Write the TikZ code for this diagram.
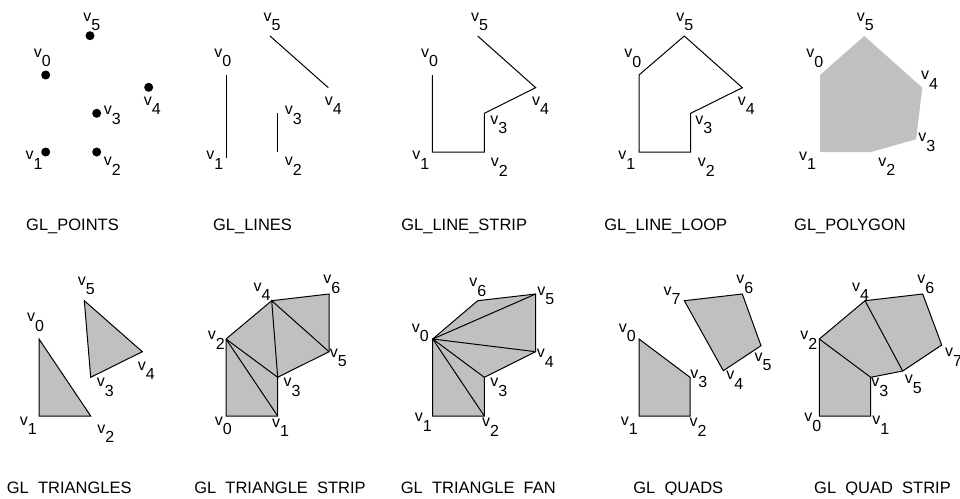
\documentclass[tikz,border=0pt]{standalone}
\usepackage{fontspec}
\setmainfont{Liberation Sans}
\newcommand\vv[1]{v\raisebox{-0.6em}{#1}}
\begin{document}
\begin{tikzpicture}[x=1pt,y=-1pt,
  lab/.style={inner sep=0pt, font=\fontsize{16}{16}\selectfont},
  captext/.style={anchor=base, inner sep=0pt, font=\fontsize{16.5}{17}\selectfont},
  edge/.style={draw=black, line width=1pt, line join=miter},
  poly/.style={fill=gfill, draw=black, line width=1pt},
  dotmark/.style={fill=black}]
\definecolor{gfill}{HTML}{C0C0C0}
\useasboundingbox (0,0) rectangle (960,498);
% ---------- Panel A: GL_POINTS
\coordinate (a0) at (45.7,75);
\coordinate (a1) at (45.7,152);
\coordinate (a2) at (96.7,152);
\coordinate (a3) at (96.7,113.3);
\coordinate (a4) at (148.7,87.3);
\coordinate (a5) at (90,35.7);
\foreach \p in {a0,a1,a2,a3,a4,a5} \fill[dotmark] (\p) circle[radius=4.5pt];
\node[lab] (la0) at (42.2,58) {\vv0};
\node[lab] (la1) at (34,160.3) {\vv1};
\node[lab] (la2) at (112.3,166.3) {\vv2};
\node[lab] (la3) at (112.3,115.3) {\vv3};
\node[lab] (la4) at (152.3,105.7) {\vv4};
\node[lab] (la5) at (91.7,21.8) {\vv5};
\node[captext] (ca) at (72.5,230) {GL\_POINTS};
% ---------- Panel B: GL_LINES
\coordinate (b0) at (226,75);
\coordinate (b1) at (226,158);
\coordinate (b2) at (277.7,152);
\coordinate (b3) at (277.7,113);
\coordinate (b4) at (328.3,87.7);
\coordinate (b5) at (270,36);
\draw[edge] (b0) -- (b1);
\draw[edge] (b3) -- (b2);
\draw[edge] (b5) -- (b4);
\node[lab] (lb0) at (222.8,58) {\vv0};
\node[lab] (lb1) at (214.8,160.3) {\vv1};
\node[lab] (lb2) at (293.3,166.3) {\vv2};
\node[lab] (lb3) at (293.3,115.3) {\vv3};
\node[lab] (lb4) at (333.3,105.7) {\vv4};
\node[lab] (lb5) at (272,22) {\vv5};
\node[captext] (cb) at (252.5,230) {GL\_LINES};
% ---------- Panel C: GL_LINE_STRIP
\coordinate (c0) at (432.3,75);
\coordinate (c1) at (432.3,152);
\coordinate (c2) at (484.3,152);
\coordinate (c3) at (484.3,113.3);
\coordinate (c4) at (535.7,87.7);
\coordinate (c5) at (477.7,36);
\draw[edge] (c0) -- (c1) -- (c2) -- (c3) -- (c4) -- (c5);
\node[lab] (lc0) at (429.5,58) {\vv0};
\node[lab] (lc1) at (420.8,160.3) {\vv1};
\node[lab] (lc2) at (499.3,167.3) {\vv2};
\node[lab] (lc3) at (498.8,125) {\vv3};
\node[lab] (lc4) at (540.5,105.7) {\vv4};
\node[lab] (lc5) at (479.5,22) {\vv5};
\node[captext] (cc) at (464.2,230) {GL\_LINE\_STRIP};
% ---------- Panel D: GL_LINE_LOOP
\coordinate (d0) at (639,75);
\coordinate (d1) at (639,152);
\coordinate (d2) at (690.7,152);
\coordinate (d3) at (690.7,113.3);
\coordinate (d4) at (742.3,87.7);
\coordinate (d5) at (684.3,36);
\draw[edge] (d0) -- (d1) -- (d2) -- (d3) -- (d4) -- (d5) -- cycle;
\node[lab] (ld0) at (632.8,58.3) {\vv0};
\node[lab] (ld1) at (626.7,160.3) {\vv1};
\node[lab] (ld2) at (706.2,167.5) {\vv2};
\node[lab] (ld3) at (703.8,125) {\vv3};
\node[lab] (ld4) at (746.2,105.7) {\vv4};
\node[lab] (ld5) at (684.7,22) {\vv5};
\node[captext] (cd) at (665.8,230) {GL\_LINE\_LOOP};
% ---------- Panel E: GL_POLYGON
\coordinate (e0) at (820,75);
\coordinate (e1) at (820,152);
\coordinate (e2) at (871,152);
\coordinate (e3) at (916,139.3);
\coordinate (e4) at (922.3,87.7);
\coordinate (e5) at (864.3,36);
\fill[gfill] (e0) -- (e1) -- (e2) -- (e3) -- (e4) -- (e5) -- cycle;
\node[lab] (le0) at (814.7,58.3) {\vv0};
\node[lab] (le1) at (807.5,160.8) {\vv1};
\node[lab] (le2) at (886.7,166.7) {\vv2};
\node[lab] (le3) at (926.7,142.5) {\vv3};
\node[lab] (le4) at (929.5,80.5) {\vv4};
\node[lab] (le5) at (865.3,22) {\vv5};
\node[captext] (ce) at (850,230) {GL\_POLYGON};
% ---------- Panel F: GL_TRIANGLES
\coordinate (f0) at (39,339);
\coordinate (f1) at (39,416);
\coordinate (f2) at (90.7,416);
\coordinate (f3) at (90.7,377.3);
\coordinate (f4) at (142.3,351.7);
\coordinate (f5) at (84.3,300.7);
\filldraw[poly] (f0) -- (f1) -- (f2) -- cycle;
\filldraw[poly] (f3) -- (f4) -- (f5) -- cycle;
\node[lab] (lf0) at (35.5,322.5) {\vv0};
\node[lab] (lf1) at (28.2,425.8) {\vv1};
\node[lab] (lf2) at (105.7,433.8) {\vv2};
\node[lab] (lf3) at (105.3,387.5) {\vv3};
\node[lab] (lf4) at (146.2,370.8) {\vv4};
\node[lab] (lf5) at (86.2,285.8) {\vv5};
% ---------- Panel G: GL_TRIANGLE_STRIP
\coordinate (g0) at (226,416);
\coordinate (g1) at (277.7,416);
\coordinate (g2) at (226,339);
\coordinate (g3) at (277.7,377.3);
\coordinate (g4) at (271.7,300.7);
\coordinate (g5) at (329,351.7);
\coordinate (g6) at (329,294);
\filldraw[poly] (g0) -- (g1) -- (g3) -- (g5) -- (g6) -- (g4) -- (g2) -- cycle;
\draw[edge] (g2) -- (g1);
\draw[edge] (g2) -- (g3) -- (g4) -- (g5);
\node[lab] (lg0) at (223.3,425.8) {\vv0};
\node[lab] (lg1) at (280.5,427.8) {\vv1};
\node[lab] (lg2) at (216.2,340.5) {\vv2};
\node[lab] (lg3) at (292,387.5) {\vv3};
\node[lab] (lg4) at (262,291.7) {\vv4};
\node[lab] (lg5) at (338.3,358) {\vv5};
\node[lab] (lg6) at (331.7,284.2) {\vv6};
% ---------- Panel H: GL_TRIANGLE_FAN
\coordinate (h0) at (432.7,339);
\coordinate (h1) at (432.7,416);
\coordinate (h2) at (484.3,416);
\coordinate (h3) at (484.3,377.3);
\coordinate (h4) at (535.7,351.7);
\coordinate (h5) at (535.7,294);
\coordinate (h6) at (477.7,300.7);
\filldraw[poly] (h0) -- (h1) -- (h2) -- (h3) -- (h4) -- (h5) -- (h6) -- cycle;
\draw[edge] (h0) -- (h2);
\draw[edge] (h0) -- (h3);
\draw[edge] (h0) -- (h4);
\draw[edge] (h0) -- (h5);
\node[lab] (lh0) at (420.3,332.8) {\vv0};
\node[lab] (lh1) at (423.3,422.5) {\vv1};
\node[lab] (lh2) at (490.5,427.5) {\vv2};
\node[lab] (lh3) at (498.7,387.5) {\vv3};
\node[lab] (lh4) at (545.3,358) {\vv4};
\node[lab] (lh5) at (545.7,295.8) {\vv5};
\node[lab] (lh6) at (477.7,287.5) {\vv6};
% ---------- Panel I: GL_QUADS
\coordinate (i0) at (639,339);
\coordinate (i1) at (639,416);
\coordinate (i2) at (690,416);
\coordinate (i3) at (690,377.3);
\coordinate (i4) at (723.3,370.7);
\coordinate (i5) at (761,345.7);
\coordinate (i6) at (742.3,294);
\coordinate (i7) at (684.3,300.7);
\filldraw[poly] (i0) -- (i1) -- (i2) -- (i3) -- cycle;
\filldraw[poly] (i4) -- (i5) -- (i6) -- (i7) -- cycle;
\node[lab] (li0) at (627.3,332.8) {\vv0};
\node[lab] (li1) at (629.2,425.8) {\vv1};
\node[lab] (li2) at (698,427.5) {\vv2};
\node[lab] (li3) at (698.7,378.7) {\vv3};
\node[lab] (li4) at (734.7,380) {\vv4};
\node[lab] (li5) at (763,362) {\vv5};
\node[lab] (li6) at (744.7,284.2) {\vv6};
\node[lab] (li7) at (672,295.8) {\vv7};
% ---------- Panel J: GL_QUAD_STRIP
\coordinate (j0) at (819.3,416);
\coordinate (j1) at (870.7,416);
\coordinate (j2) at (819.3,339);
\coordinate (j3) at (870.7,377.3);
\coordinate (j4) at (865,300.7);
\coordinate (j5) at (902.7,371);
\coordinate (j6) at (922.7,294);
\coordinate (j7) at (941.7,345);
\filldraw[poly] (j0) -- (j1) -- (j3) -- (j5) -- (j7) -- (j6) -- (j4) -- (j2) -- cycle;
\draw[edge] (j2) -- (j3);
\draw[edge] (j4) -- (j5);
\node[lab] (lj0) at (812.8,422.5) {\vv0};
\node[lab] (lj1) at (880.8,425) {\vv1};
\node[lab] (lj2) at (808.7,340.5) {\vv2};
\node[lab] (lj3) at (879.7,387.5) {\vv3};
\node[lab] (lj4) at (860.5,291.7) {\vv4};
\node[lab] (lj5) at (913.3,384.2) {\vv5};
\node[lab] (lj6) at (925.7,284.2) {\vv6};
\node[lab] (lj7) at (953.5,357.5) {\vv7};
% ---------- bottom captions (cut off at the lower edge)
\begin{scope}
\clip (0,300) rectangle (960,494.3);
\node[captext] (cf) at (69.2,493.3) {GL\_TRIANGLES};
\node[captext] (cg) at (280,493.3) {GL\_TRIANGLE\_STRIP};
\node[captext] (ch) at (478.3,493.3) {GL\_TRIANGLE\_FAN};
\node[captext] (ci) at (678.3,493.3) {GL\_QUADS};
\node[captext] (cj) at (882.5,493.3) {GL\_QUAD\_STRIP};
\end{scope}
\end{tikzpicture}
\end{document}
